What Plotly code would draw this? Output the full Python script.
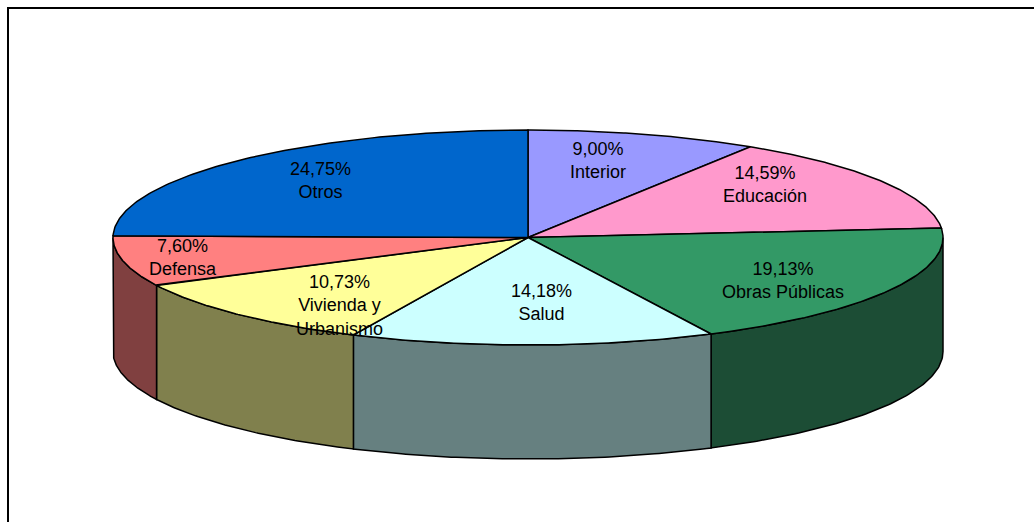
import numpy as np
import plotly.graph_objects as go

# ---- data ----
categories = ["Interior", "Educación", "Obras Públicas", "Salud",
              "Vivienda y Urbanismo", "Defensa", "Otros"]
values = [9.00, 14.59, 19.13, 14.18, 10.73, 7.60, 24.75]
label_texts = ["9,00%<br>Interior", "14,59%<br>Educación", "19,13%<br>Obras Públicas",
               "14,18%<br>Salud", "10,73%<br>Vivienda y<br>Urbanismo",
               "7,60%<br>Defensa", "24,75%<br>Otros"]

# ---- styles / geometry (pixel-space layout) ----
top_colors = ["#9999FF", "#FF99CC", "#339966", "#CCFFFF", "#FFFF99", "#FF8080", "#0066CC"]
side_colors = ["#4D4D80", "#804D66", "#1C4D35", "#668080", "#80804D", "#804040", "#003366"]
W, H = 1034, 522
cx, cy = 528, 237.5
rx, ry = 415, 107.5
depth = 114
label_pos = [(598, 160), (765, 184), (783, 280), (541, 302), (339, 305), (183, 257), (320, 180)]

def pt(t_deg, dy=0.0):
    t = np.radians(t_deg)
    return cx + rx * np.sin(t), cy - ry * np.cos(t) + dy

total = sum(values)
bounds = [0.0]
for v in values:
    bounds.append(bounds[-1] + v / total * 360.0)

fig = go.Figure()

# side walls (front half: 90..270 degrees)
for i in range(len(values)):
    a, b = bounds[i], bounds[i + 1]
    s, e = max(a, 90.0), min(b, 270.0)
    if e <= s:
        continue
    ts = np.linspace(s, e, 80)
    xs_top, ys_top = pt(ts)
    xs_bot, ys_bot = pt(ts[::-1], depth)
    xs = np.concatenate([xs_top, xs_bot, xs_top[:1]])
    ys = np.concatenate([ys_top, ys_bot, ys_top[:1]])
    fig.add_trace(go.Scatter(x=xs, y=ys, mode="lines", fill="toself",
                             fillcolor=side_colors[i],
                             line=dict(color="black", width=1.5),
                             hoverinfo="skip", showlegend=False))

# top faces
for i in range(len(values)):
    a, b = bounds[i], bounds[i + 1]
    ts = np.linspace(a, b, 120)
    xa, ya = pt(ts)
    xs = np.concatenate([[cx], xa, [cx]])
    ys = np.concatenate([[cy], ya, [cy]])
    fig.add_trace(go.Scatter(x=xs, y=ys, mode="lines", fill="toself",
                             fillcolor=top_colors[i],
                             line=dict(color="black", width=1.5),
                             name=categories[i], hoverinfo="name", showlegend=False))

for txt, (lx, ly) in zip(label_texts, label_pos):
    fig.add_annotation(x=lx, y=ly, xref="x", yref="y", text=txt, showarrow=False,
                       xanchor="center", yanchor="middle",
                       font=dict(family="Liberation Sans, Arial, sans-serif", size=18, color="black"))

fig.add_shape(type="rect", xref="x", yref="y", x0=8, y0=8, x1=W + 20, y1=H + 20,
              line=dict(color="black", width=2), fillcolor="rgba(0,0,0,0)", layer="above")

fig.update_layout(width=W, height=H, autosize=False,
                  margin=dict(l=0, r=0, t=0, b=0),
                  paper_bgcolor="white", plot_bgcolor="white",
                  xaxis=dict(range=[0, W], visible=False, fixedrange=True),
                  yaxis=dict(range=[H, 0], visible=False, fixedrange=True))

fig.write_html("out.html", config={"displayModeBar": False},
               post_script="document.body.style.margin='0';document.body.style.overflow='hidden';")
